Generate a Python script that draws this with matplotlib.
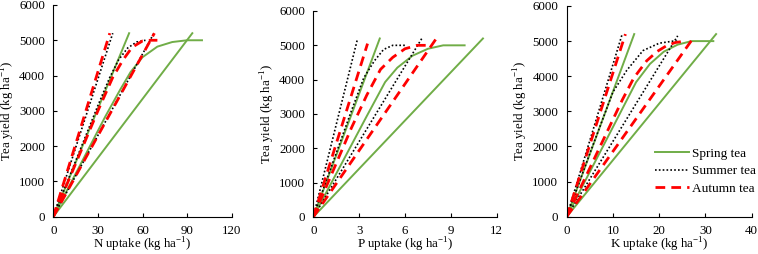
import numpy as np
import matplotlib
matplotlib.use('Agg')
import matplotlib.pyplot as plt

plt.rcParams['font.family'] = ['Liberation Serif', 'DejaVu Serif']
plt.rcParams['mathtext.fontset'] = 'custom'
plt.rcParams['mathtext.rm'] = 'Liberation Serif'
plt.rcParams['font.size'] = 9.3

# ---- N uptake panel (x: kg N/ha, y: kg tea/ha)
n_spring_up_x, n_spring_up_y = [0, 51], [0, 5200]
n_spring_lo_x, n_spring_lo_y = [0, 93.5], [0, 5200]
n_spring_mid_x = [0, 20, 35, 45, 52, 60, 70, 80, 90, 100]
n_spring_mid_y = [0, 1620, 2840, 3600, 4100, 4520, 4820, 4950, 5000, 5000]
n_summer_up_x, n_summer_up_y = [0, 40], [0, 5200]
n_summer_lo_x, n_summer_lo_y = [0, 67.7], [0, 5200]
n_summer_mid_x = [0, 30, 38, 44, 50, 56, 62]
n_summer_mid_y = [0, 3150, 3950, 4450, 4780, 4950, 5000]
n_autumn_up_x, n_autumn_up_y = [0, 38], [0, 5200]
n_autumn_lo_x, n_autumn_lo_y = [0, 68], [0, 5200]
n_autumn_mid_x = [0, 30, 40, 47, 53, 60, 65, 70]
n_autumn_mid_y = [0, 3000, 3950, 4450, 4800, 4980, 5000, 5000]

# ---- P uptake panel
p_spring_up_x, p_spring_up_y = [0, 4.35], [0, 5200]
p_spring_lo_x, p_spring_lo_y = [0, 11.1], [0, 5200]
p_spring_mid_x = [0, 2, 3.5, 4.7, 5.5, 6.5, 7.5, 8.5, 9.9]
p_spring_mid_y = [0, 1680, 2940, 3930, 4350, 4700, 4900, 5000, 5000]
p_summer_up_x, p_summer_up_y = [0, 2.9], [0, 5200]
p_summer_lo_x, p_summer_lo_y = [0, 7.1], [0, 5200]
p_summer_mid_x = [0, 2.5, 3.3, 4.0, 4.6, 5.2, 6.0]
p_summer_mid_y = [0, 3100, 4050, 4550, 4880, 5000, 5000]
p_autumn_up_x, p_autumn_up_y = [0, 3.55], [0, 5050]
p_autumn_lo_x, p_autumn_lo_y = [0, 8.05], [0, 5200]
p_autumn_mid_x = [0, 2.5, 3.5, 4.4, 5.2, 6.0, 6.8, 7.5]
p_autumn_mid_y = [0, 2600, 3550, 4300, 4650, 4900, 5000, 5000]

# ---- K uptake panel
k_spring_up_x, k_spring_up_y = [0, 14.6], [0, 5200]
k_spring_lo_x, k_spring_lo_y = [0, 32.3], [0, 5200]
k_spring_mid_x = [0, 8, 15, 18, 21, 24, 27, 31.7]
k_spring_mid_y = [0, 2040, 3830, 4350, 4700, 4900, 5000, 5000]
k_summer_up_x, k_summer_up_y = [0, 12], [0, 5200]
k_summer_lo_x, k_summer_lo_y = [0, 24], [0, 5150]
k_summer_mid_x = [0, 5, 10, 13, 16.5, 20, 23, 24]
k_summer_mid_y = [0, 1800, 3550, 4170, 4730, 4940, 5000, 5000]
k_autumn_up_x, k_autumn_up_y = [0, 12.7], [0, 5200]
k_autumn_lo_x, k_autumn_lo_y = [0, 27.7], [0, 5150]
k_autumn_mid_x = [0, 12, 14.5, 17.3, 19.5, 21.6, 23.5, 25.6]
k_autumn_mid_y = [0, 3320, 3950, 4440, 4700, 4870, 4960, 5000]

green = '#70AD47'
red = '#FF0000'
spring_kw = dict(color=green, lw=1.4)
summer_kw = dict(color='black', lw=1.2, ls=(0, (1, 1.3)))
autumn_kw = dict(color=red, lw=2.0, ls=(0, (3.5, 2.2)))

panels = [
    dict(rect=[0.0703, 0.1469, 0.2354, 0.8335], xmax=120, step=30, label='N uptake (kg ha$^{-1}$)',
         spring=[(n_spring_up_x, n_spring_up_y), (n_spring_mid_x, n_spring_mid_y), (n_spring_lo_x, n_spring_lo_y)],
         summer=[(n_summer_up_x, n_summer_up_y), (n_summer_mid_x, n_summer_mid_y), (n_summer_lo_x, n_summer_lo_y)],
         autumn=[(n_autumn_up_x, n_autumn_up_y), (n_autumn_mid_x, n_autumn_mid_y), (n_autumn_lo_x, n_autumn_lo_y)]),
    dict(rect=[0.4133, 0.1457, 0.2420, 0.8110], xmax=12, step=3, label='P uptake (kg ha$^{-1}$)',
         spring=[(p_spring_up_x, p_spring_up_y), (p_spring_mid_x, p_spring_mid_y), (p_spring_lo_x, p_spring_lo_y)],
         summer=[(p_summer_up_x, p_summer_up_y), (p_summer_mid_x, p_summer_mid_y), (p_summer_lo_x, p_summer_lo_y)],
         autumn=[(p_autumn_up_x, p_autumn_up_y), (p_autumn_mid_x, p_autumn_mid_y), (p_autumn_lo_x, p_autumn_lo_y)]),
    dict(rect=[0.7476, 0.1469, 0.2441, 0.8295], xmax=40, step=10, label='K uptake (kg ha$^{-1}$)',
         spring=[(k_spring_up_x, k_spring_up_y), (k_spring_mid_x, k_spring_mid_y), (k_spring_lo_x, k_spring_lo_y)],
         summer=[(k_summer_up_x, k_summer_up_y), (k_summer_mid_x, k_summer_mid_y), (k_summer_lo_x, k_summer_lo_y)],
         autumn=[(k_autumn_up_x, k_autumn_up_y), (k_autumn_mid_x, k_autumn_mid_y), (k_autumn_lo_x, k_autumn_lo_y)]),
]

fig = plt.figure(figsize=(7.58, 2.54), dpi=100)

for i, p in enumerate(panels):
    ax = fig.add_axes(p['rect'])
    for j, (x, y) in enumerate(p['spring']):
        ax.plot(x, y, label='Spring tea' if j == 0 else None, **spring_kw)
    for j, (x, y) in enumerate(p['summer']):
        ax.plot(x, y, label='Summer tea' if j == 0 else None, **summer_kw)
    for j, (x, y) in enumerate(p['autumn']):
        ax.plot(x, y, label='Autumn tea' if j == 0 else None, **autumn_kw)

    ax.set_xlim(0, p['xmax'])
    ax.set_ylim(0, 6000)
    ax.set_xticks(np.arange(0, p['xmax'] + 0.01, p['step']))
    ax.set_yticks(np.arange(0, 6001, 1000))
    ax.spines['top'].set_visible(False)
    ax.spines['right'].set_visible(False)
    ax.tick_params(direction='in', length=3, width=0.8, pad=6, labelsize=9.3)
    ax.set_xlabel(p['label'], fontsize=9.3, labelpad=-1)
    ax.set_ylabel('Tea yield (kg ha$^{-1}$)', fontsize=9.3, labelpad=1.5)

    if i == 2:
        ax.legend(loc='upper left', bbox_to_anchor=(0.44, 0.36), frameon=False,
                  fontsize=9.5, handlelength=2.6, handletextpad=0.25,
                  borderpad=0, labelspacing=0.4)

fig.savefig('out.png', dpi=100)
